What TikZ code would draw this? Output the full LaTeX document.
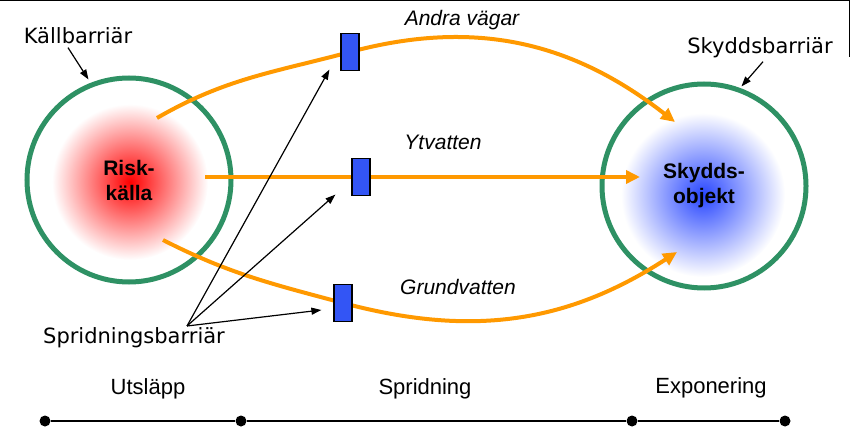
\documentclass[tikz,border=0pt]{standalone}
\usepackage{fontspec}
\setmainfont{Liberation Sans}
\newfontfamily\comicfont{DejaVu Sans}
\usetikzlibrary{arrows.meta,positioning}
\definecolor{barrgreen}{RGB}{46,145,100}
\definecolor{pathorange}{RGB}{255,153,0}
\definecolor{barrblue}{RGB}{51,85,245}
\definecolor{glowblue}{RGB}{40,70,255}

\begin{document}
\begin{tikzpicture}[x=1pt,y=1pt,
    ring/.style={circle,draw=barrgreen,line width=5pt,minimum size=204pt,inner sep=0pt},
    barrier/.style={draw=black,fill=barrblue,line width=1.2pt,minimum width=18pt,minimum height=37pt,inner sep=0pt},
    flow/.style={draw=pathorange,line width=4pt,-{Triangle[length=14pt,width=13pt]}},
    pointer/.style={draw=black,line width=1.2pt,-{Triangle[length=10pt,width=7pt]}},
    comic/.style={font=\comicfont\fontsize{21}{24}\selectfont},
    route/.style={font=\itshape\fontsize{21}{25}\selectfont},
    phase/.style={font=\fontsize{22}{26}\selectfont},
    core/.style={font=\bfseries\fontsize{21}{25}\selectfont,align=center},
    tick/.style={circle,fill=black,minimum size=11pt,inner sep=0pt}]
  \useasboundingbox (0,0) rectangle (850,447);
  \draw[line width=1.5pt] (0,446.25) -- (849.25,446.25) -- (849.25,390);

  % glow behind source and object
  \shade[inner color=red,outer color=white] (130,265) circle (78);
  \shade[inner color=glowblue,outer color=white] (703,252) circle (82);

  \node[ring,core] (kalla) at (129,267) {Risk-\\källa};
  \node[ring,core] (objekt) at (704,261) {Skydds-\\objekt};

  % spreading paths
  \coordinate (pA) at (350,395);
  \coordinate (pY) at (361,270);
  \coordinate (pG) at (343,144);
  \coordinate (a0) at (157,329);
  \coordinate (a1) at (675,325);
  \coordinate (y0) at (205,270);
  \coordinate (y1) at (640,270);
  \coordinate (g0) at (163,207);
  \coordinate (g1) at (677,195);
  \draw[flow] (a0) to[out=30,in=195] (pA) to[out=15,in=142] (a1);
  \draw[flow] (y0) -- (y1);
  \draw[flow] (g0) to[out=-27,in=165] (pG) to[out=-15,in=213] (g1);

  \node[barrier] (barrA) at (pA) {};
  \node[barrier] (barrY) at (pY) {};
  \node[barrier] (barrG) at (pG) {};

  \node[route] (andra) at (462,427) {Andra vägar};
  \node[route] (yt) at (443,305) {Ytvatten};
  \node[route] (grund) at (458,160) {Grundvatten};

  % barrier labels
  \node[comic] (kbar) at (78,411) {Källbarriär};
  \node[comic] (sbar) at (760,399) {Skyddsbarriär};
  \node[comic] (spbar) at (134,109) {Spridningsbarriär};
  \coordinate (fan) at (187,121);
  \draw[pointer] ([xshift=-10pt]kbar.south) -- ([shift={(2,5)}]kalla.114);
  \draw[pointer] ([xshift=3pt]sbar.south) -- ([shift={(0,2)}]objekt.69);
  \draw[pointer] (fan) -- ([shift={(-11,1.5)}]barrA.south west);
  \draw[pointer] (fan) -- ([shift={(-16,1.5)}]barrY.south west);
  \draw[pointer] (fan) -- ([shift={(-12,-7)}]barrG.west);

  % time line
  \node[tick] (t1) at (45,26) {};
  \node[tick] (t2) at (241,26) {};
  \node[tick] (t3) at (632,26) {};
  \node[tick] (t4) at (785,26) {};
  \draw[line width=2.5pt] (t1) -- (t2) -- (t3) -- (t4);
  \node[phase] (utslapp) at (148,58) {Utsläpp};
  \node[phase] (sprid) at (425,58) {Spridning};
  \node[phase] (expo) at (711,59) {Exponering};
\end{tikzpicture}
\end{document}
